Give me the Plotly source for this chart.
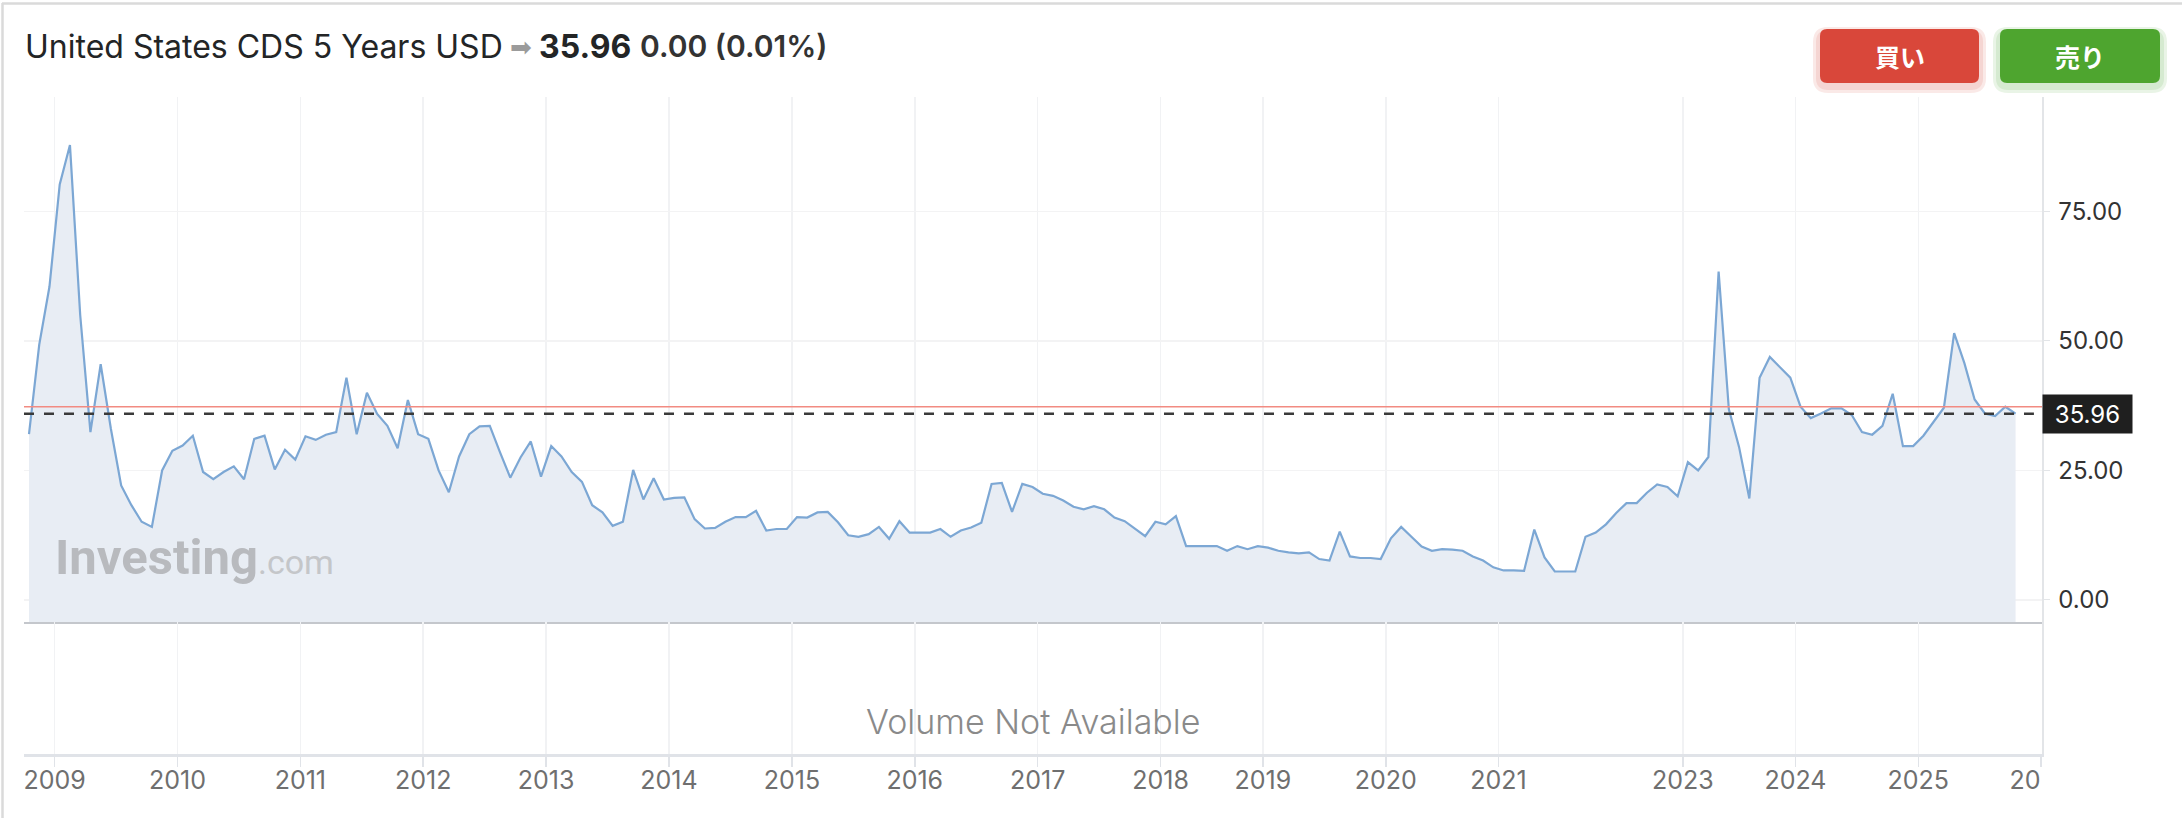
import plotly.graph_objects as go

# ---------------- data ----------------
VALUES = [
    32.0, 49.3, 60.5, 80.2, 87.8, 55.0, 32.4, 45.5, 33.0, 22.1,
    18.3, 15.1, 14.1, 25.0, 28.8, 29.8, 31.7, 24.7, 23.3, 24.7,
    25.8, 23.3, 31.1, 31.7, 25.2, 29.0, 27.1, 31.6, 30.9, 31.9,
    32.4, 42.9, 32.0, 40.0, 35.9, 33.6, 29.3, 38.6, 32.0, 31.1,
    25.0, 20.8, 27.7, 32.0, 33.5, 33.6, 28.5, 23.6, 27.5, 30.6,
    23.8, 29.7, 27.7, 24.7, 22.8, 18.3, 16.9, 14.3, 15.1, 25.1,
    19.4, 23.5, 19.4, 19.7, 19.8, 15.6, 13.8, 13.9, 15.1, 16.0,
    16.0, 17.2, 13.4, 13.7, 13.7, 16.0, 15.9, 16.9, 17.0, 15.0,
    12.5, 12.2, 12.7, 14.1, 11.8, 15.2, 13.0, 13.0, 13.0, 13.7,
    12.2, 13.4, 14.0, 14.9, 22.4, 22.6, 17.0, 22.4, 21.8, 20.5,
    20.1, 19.2, 18.0, 17.5, 18.1, 17.5, 15.9, 15.2, 13.8, 12.3,
    15.1, 14.6, 16.2, 10.4, 10.4, 10.4, 10.4, 9.5, 10.4, 9.8,
    10.4, 10.1, 9.5, 9.2, 9.0, 9.2, 7.9, 7.6, 13.2, 8.4,
    8.1, 8.1, 7.9, 11.9, 14.1, 12.2, 10.3, 9.5, 9.8, 9.7,
    9.5, 8.4, 7.6, 6.3, 5.7, 5.7, 5.6, 13.6, 8.2, 5.5,
    5.5, 5.5, 12.2, 13.0, 14.6, 16.8, 18.7, 18.7, 20.7, 22.3,
    21.8, 20.0, 26.6, 25.0, 27.6, 63.4, 36.8, 29.5, 19.6, 42.9,
    46.9, 45.0, 42.9, 37.3, 35.1, 36.0, 37.0, 37.0, 35.7, 32.4,
    31.9, 33.6, 39.8, 29.7, 29.7, 31.7, 34.3, 37.1, 51.5, 45.7,
    38.7, 36.0, 35.5, 37.3, 35.96,
]
YEAR_LABELS = ["2009", "2010", "2011", "2012", "2013", "2014", "2015", "2016",
               "2017", "2018", "2019", "2020", "2021", "2023", "2024", "2025", "2026"]
YEAR_FIRST_INDEX = [3, 15, 27, 39, 51, 63, 75, 87, 99, 111, 121, 133, 144, 162, 173, 185, 197]
Y_TICKS = [0, 25, 50, 75]
LAST = 35.96
CHANGE_TEXT = "0.00 (0.01%)"
REF_LEVEL = 37.3
TITLE = "United States CDS 5 Years USD"

# ---------------- layout helpers ----------------
W, H = 2182, 818
ML, MR, MT, MB = 24, 140, 97, 64
PW = W - ML - MR
PH = H - MT - MB


def px_x(px):
    return (px - ML) / PW


def px_y(py):
    return (H - MB - py) / PH


def rounded_rect(x0, y0, x1, y1, r):
    """Rounded rectangle path, pixel input -> paper coordinates."""
    def P(x, y):
        return f"{px_x(x):.6f},{px_y(y):.6f}"
    return (f"M {P(x0 + r, y0)} L {P(x1 - r, y0)} Q {P(x1, y0)} {P(x1, y0 + r)} "
            f"L {P(x1, y1 - r)} Q {P(x1, y1)} {P(x1 - r, y1)} L {P(x0 + r, y1)} "
            f"Q {P(x0, y1)} {P(x0, y1 - r)} L {P(x0, y0 + r)} Q {P(x0, y0)} {P(x0 + r, y0)} Z")


N = len(VALUES)
X = list(range(N))
Y_MIN, Y_MAX = -4.25, 97.08
X_MIN, X_MAX = -0.488, 196.58
PANE_SPLIT = px_y(622)

tick_pos = [i - 0.5 for i in YEAR_FIRST_INDEX]
tick_text = YEAR_LABELS[:-1] + [YEAR_LABELS[-1][:2] + "\u2007\u2007"]

FONT = "Inter"

fig = go.Figure()
fig.add_trace(go.Scatter(x=X, y=[Y_MIN] * N, mode="lines", line=dict(width=0, color="rgba(0,0,0,0)"),
                         hoverinfo="skip", showlegend=False, xaxis="x", yaxis="y"))
fig.add_trace(go.Scatter(x=X, y=VALUES, mode="lines", fill="tonexty", fillcolor="#e8edf4",
                         line=dict(color="#7ca7d4", width=2.2), hoverinfo="skip",
                         showlegend=False, xaxis="x", yaxis="y"))
# empty volume pane
fig.add_trace(go.Scatter(x=[X[0]], y=[None], mode="lines", showlegend=False, hoverinfo="skip",
                         xaxis="x2", yaxis="y2"))

grid_c = "#f1f2f4"
fig.update_layout(
    width=W, height=H,
    margin=dict(l=ML, r=MR, t=MT, b=MB, autoexpand=False),
    paper_bgcolor="white", plot_bgcolor="white",
    font=dict(family=FONT, color="#333333"),
    showlegend=False,
    xaxis=dict(domain=[0, 1], anchor="y", range=[X_MIN, X_MAX], tickvals=tick_pos,
               showticklabels=False, ticks="", showgrid=True, gridcolor=grid_c, gridwidth=1.5,
               showline=True, linecolor="#c4c7cc", linewidth=2, zeroline=False, fixedrange=True),
    xaxis2=dict(domain=[0, 1], anchor="y2", range=[X_MIN, X_MAX], tickvals=tick_pos,
                ticktext=tick_text, ticks="outside", ticklen=10, tickwidth=1.5,
                tickcolor="#e0e3e8", showgrid=True, gridcolor=grid_c, gridwidth=1.5,
                showline=True, linecolor="#e0e3e8", linewidth=2.5, zeroline=False,
                tickfont=dict(size=25, color="#6f6f6f", family=FONT), ticklabelstandoff=-8,
                fixedrange=True),
    yaxis=dict(domain=[PANE_SPLIT, 1], anchor="x", side="right", range=[Y_MIN, Y_MAX],
               tickvals=Y_TICKS, tickformat=".2f", ticks="outside", ticklen=6,
               tickcolor="#e3e5e8", showgrid=True, gridcolor="#f3f3f4", gridwidth=1.5,
               showline=True, linecolor="#e3e5e8", linewidth=1.5, zeroline=False,
               tickfont=dict(size=24, color="#333333", family=FONT), ticklabelstandoff=4,
               fixedrange=True),
    yaxis2=dict(domain=[0, PANE_SPLIT], anchor="x2", side="right", range=[0, 1],
                showticklabels=False, ticks="", showgrid=False, showline=True,
                linecolor="#e3e5e8", linewidth=1.5, zeroline=False, fixedrange=True),
)

shapes = []
# reference (red) and last-price (dashed) lines
shapes.append(dict(type="line", xref="paper", yref="y", x0=0, x1=1, y0=REF_LEVEL, y1=REF_LEVEL,
                   line=dict(color="#f28b82", width=1.6), layer="above"))
shapes.append(dict(type="line", xref="paper", yref="y", x0=0, x1=0.996, y0=LAST, y1=LAST,
                   line=dict(color="#3a3a3a", width=2.5, dash="10px,10px"), layer="above"))
# outer frame lines
shapes.append(dict(type="line", xref="paper", yref="paper", x0=px_x(2), x1=px_x(W), y0=px_y(3.5),
                   y1=px_y(3.5), line=dict(color="#dadada", width=2.5)))
shapes.append(dict(type="line", xref="paper", yref="paper", x0=px_x(2.5), x1=px_x(2.5), y0=px_y(3),
                   y1=px_y(H), line=dict(color="#dadada", width=2.5)))
# buttons with soft shadows
for (bx0, bx1, col, shadow) in [(1820, 1979, "#d9473a", "rgba(217,71,58,0.12)"),
                                (2000, 2160, "#4ea52f", "rgba(78,165,47,0.12)")]:
    for g in (7, 4):
        shapes.append(dict(type="path", xref="paper", yref="paper",
                           path=rounded_rect(bx0 - g, 29 - g + 5, bx1 + g, 83 + g + 3, 8 + g),
                           fillcolor=shadow, line=dict(width=0)))
    shapes.append(dict(type="path", xref="paper", yref="paper",
                       path=rounded_rect(bx0, 29, bx1, 83, 7), fillcolor=col, line=dict(width=0)))
fig.update_layout(shapes=shapes)

ann = []
ann.append(dict(xref="paper", yref="paper", x=px_x(23), y=px_y(46), xanchor="left", yanchor="middle",
                text=TITLE, showarrow=False, font=dict(size=32, color="#232526", family=FONT)))
ann.append(dict(xref="paper", yref="paper", x=px_x(508), y=px_y(47), xanchor="left", yanchor="middle",
                text="\u27a1", showarrow=False, font=dict(size=26, color="#9b9b9b", family="DejaVu Sans")))
ann.append(dict(xref="paper", yref="paper", x=px_x(537), y=px_y(46), xanchor="left", yanchor="middle",
                text=f"{LAST:.2f}", showarrow=False,
                font=dict(size=32, color="#232526", family=FONT, weight=700)))
ann.append(dict(xref="paper", yref="paper", x=px_x(638), y=px_y(46), xanchor="left", yanchor="middle",
                text=CHANGE_TEXT, showarrow=False,
                font=dict(size=30, color="#333333", family=FONT, weight=600)))
ann.append(dict(xref="paper", yref="paper", x=px_x(1899.5), y=px_y(56), xanchor="center",
                yanchor="middle", text="買い", showarrow=False,
                font=dict(size=25, color="white", family="Noto Sans CJK JP", weight=700)))
ann.append(dict(xref="paper", yref="paper", x=px_x(2080), y=px_y(56), xanchor="center",
                yanchor="middle", text="売り", showarrow=False,
                font=dict(size=25, color="white", family="Noto Sans CJK JP", weight=700)))
# last price tag
ann.append(dict(xref="paper", yref="y", x=1, y=LAST, xanchor="left", yanchor="middle",
                text=f"{LAST:.2f}", showarrow=False, bgcolor="#1f1f1f", width=87, height=36,
                font=dict(size=24, color="white", family=FONT)))
# watermark
ann.append(dict(xref="paper", yref="paper", x=px_x(53), y=px_y(557), xanchor="left", yanchor="middle",
                text="<b>Investing</b><span style='font-size:34px;color:#c4c6c9'>.com</span>",
                showarrow=False, font=dict(size=49, color="#b8babe", family="Roboto")))
# volume pane note
ann.append(dict(xref="paper", yref="paper", x=0.5, y=px_y(721), xanchor="center", yanchor="middle",
                text="Volume Not Available", showarrow=False,
                font=dict(size=34, color="#8a8a8a", family=FONT, weight=300)))
fig.update_layout(annotations=ann)

fig.write_html("out.html", config={"displayModeBar": False, "staticPlot": True},
               post_script="document.body.style.margin='0';")
